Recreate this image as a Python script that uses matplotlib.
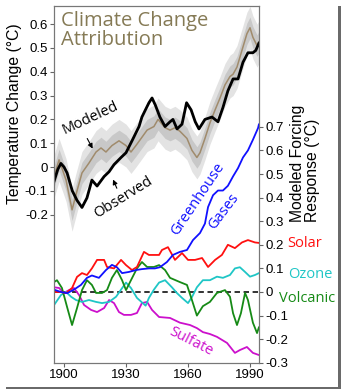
import numpy as np
import matplotlib
matplotlib.use("Agg")
from matplotlib import pyplot as plt
from matplotlib.patches import Rectangle

# observed global temperature (smoothed), left axis
obs_year = [1895.2, 1897, 1898.5, 1900, 1901.5, 1904, 1906.3, 1908.7, 1911.1, 1913.5,
            1916, 1919.4, 1921.8, 1924.2, 1927.6, 1930, 1932.9, 1936.3, 1937.7, 1941.1,
            1942.6, 1944.2, 1946.4, 1948.9, 1951.3, 1952.7, 1954.7, 1957.1, 1959.3, 1961.5,
            1963.5, 1965.3, 1968.2, 1971.6, 1974.5, 1976.9, 1979.3, 1981.8, 1984.2, 1986.6,
            1989, 1991.4, 1992.8, 1994.3]
obs_temp = [-0.06, -0.01, 0.015, 0.0, -0.025, -0.10, -0.14, -0.17, -0.13, -0.055,
            -0.08, -0.04, -0.02, 0.01, 0.04, 0.06, 0.11, 0.17, 0.21, 0.27,
            0.29, 0.26, 0.21, 0.17, 0.19, 0.20, 0.16, 0.18, 0.27, 0.24,
            0.19, 0.16, 0.20, 0.21, 0.19, 0.25, 0.32, 0.37, 0.37, 0.44,
            0.48, 0.48, 0.49, 0.52]

# modeled temperature (ensemble mean), left axis
mod_year = [1895.2, 1897.6, 1901, 1903.9, 1906.3, 1908.7, 1912.1, 1915.5, 1917.9, 1920.3,
            1923.2, 1926.6, 1930, 1932.4, 1934.8, 1937.3, 1940.2, 1943.5, 1945.5, 1948.9,
            1951.3, 1953.7, 1956.1, 1959.5, 1961.9, 1964.3, 1965.8, 1968.2, 1970.6, 1973.1,
            1975.5, 1977.9, 1980.3, 1981.8, 1983.7, 1986.1, 1988.5, 1990, 1991.4, 1993.4,
            1994.3]
mod_temp = [-0.04, 0.03, -0.055, -0.18, -0.10, -0.025, 0.017, 0.063, 0.08, 0.063,
            0.09, 0.11, 0.09, 0.063, 0.09, 0.12, 0.155, 0.17, 0.20, 0.165,
            0.155, 0.165, 0.15, 0.12, 0.07, 0.04, 0.06, 0.12, 0.185, 0.24,
            0.29, 0.345, 0.38, 0.39, 0.42, 0.49, 0.56, 0.585, 0.545, 0.51,
            0.525]
inner_spread = 0.045
outer_spread = 0.09

# forcing responses, right axis
ghg_year = [1895.2, 1898.5, 1901.5, 1904.8, 1908.2, 1911.1, 1913.5, 1916.9, 1920.3, 1923.2,
            1925.6, 1928.1, 1931.4, 1934.8, 1937.7, 1941.1, 1944, 1946.4, 1949.8, 1952.7,
            1956.1, 1959.5, 1962.4, 1965.8, 1968.2, 1969.7, 1972.1, 1974.5, 1976.9, 1979.3,
            1981.8, 1984.2, 1986.6, 1989, 1991.4, 1993.9, 1994.3]
ghg_val = [0.01, 0.0, -0.005, 0.01, 0.03, 0.06, 0.07, 0.06, 0.093, 0.115,
           0.105, 0.08, 0.085, 0.093, 0.097, 0.10, 0.10, 0.105, 0.127, 0.157,
           0.17, 0.178, 0.22, 0.25, 0.29, 0.36, 0.41, 0.43, 0.43, 0.45,
           0.49, 0.525, 0.57, 0.60, 0.645, 0.695, 0.71]

solar_year = [1895.2, 1898.5, 1901, 1903.9, 1906.3, 1908.7, 1911.1, 1913.5, 1916, 1919.4,
              1920.8, 1924.2, 1927.6, 1930, 1932.9, 1935.3, 1938.7, 1941.1, 1943.5, 1946,
              1947.4, 1950.3, 1953.7, 1957.1, 1960, 1963.4, 1966.8, 1969.7, 1973.1, 1976.4,
              1979.3, 1982.7, 1986.1, 1989, 1992.4, 1994.3]
solar_val = [0.0, 0.0, -0.005, 0.017, 0.064, 0.08, 0.072, 0.10, 0.136, 0.136,
             0.106, 0.10, 0.136, 0.114, 0.093, 0.106, 0.17, 0.157, 0.157, 0.157,
             0.178, 0.19, 0.136, 0.165, 0.136, 0.136, 0.144, 0.106, 0.136, 0.157,
             0.20, 0.186, 0.21, 0.22, 0.21, 0.208]

ozone_year = [1895.2, 1898.5, 1901, 1903.4, 1905.8, 1908.7, 1912.1, 1915.5, 1918.4, 1921.8,
              1925.2, 1927.6, 1930, 1932.4, 1935.3, 1939.5, 1941.1, 1943.5, 1946, 1948.9,
              1952.2, 1954.7, 1957.1, 1960, 1962, 1964.3, 1967.2, 1970.6, 1974, 1976.9,
              1980.3, 1982.7, 1985.1, 1987.6, 1990, 1992.4, 1994.3]
ozone_val = [-0.055, -0.013, 0.0, -0.02, -0.034, -0.042, -0.034, -0.042, -0.047, -0.042,
             -0.02, 0.01, 0.04, 0.017, -0.025, -0.058, -0.025, 0.01, 0.04, 0.05,
             0.02, -0.005, -0.025, -0.047, -0.02, 0.02, 0.05, 0.05, 0.065, 0.06,
             0.072, 0.10, 0.105, 0.085, 0.065, 0.072, 0.08]

volc_year = [1895.2, 1896.6, 1899, 1901.5, 1903.9, 1906.3, 1908.7, 1911.1, 1913.5, 1915.5,
             1918.4, 1920.8, 1923.2, 1925.6, 1928.1, 1930, 1932.4, 1935.3, 1937.7, 1940.2,
             1943.5, 1946, 1948.9, 1951.3, 1956.1, 1959.5, 1961.9, 1964.3, 1967.2, 1970.6,
             1974, 1977.9, 1980.3, 1981.8, 1983.7, 1985.6, 1987.6, 1989, 1991.4, 1993.4,
             1994.3]
volc_val = [0.042, 0.05, 0.017, -0.064, -0.14, -0.068, 0.008, 0.05, 0.03, -0.004,
            -0.004, 0.008, 0.06, 0.093, 0.05, 0.008, 0.05, 0.10, 0.127, 0.106,
            0.106, 0.114, 0.093, 0.06, 0.042, 0.03, -0.034, -0.10, -0.06, -0.042,
            -0.004, 0.008, -0.02, -0.09, -0.14, -0.09, -0.004, -0.034, -0.13, -0.174,
            -0.15]

sulf_year = [1895.2, 1897.6, 1900, 1902.4, 1904.8, 1907.3, 1909.7, 1913.1, 1916, 1919.4,
             1921.8, 1924.2, 1926.6, 1929, 1932.4, 1935.3, 1937.7, 1940.2, 1942.6, 1946,
             1951.3, 1956.1, 1961, 1964.3, 1967.2, 1970.6, 1974, 1978.9, 1982.7, 1985.1,
             1988.5, 1991.4, 1994.3]
sulf_val = [0.02, 0.017, -0.004, 0.008, 0.017, -0.013, -0.055, -0.076, -0.085, -0.068,
            -0.034, -0.047, -0.085, -0.097, -0.097, -0.089, -0.047, -0.042, -0.076, -0.106,
            -0.11, -0.13, -0.14, -0.153, -0.17, -0.178, -0.19, -0.216, -0.258, -0.246,
            -0.233, -0.258, -0.267]

year_ticks = [1900, 1930, 1960, 1990]
temp_ticks = [0.6, 0.5, 0.4, 0.3, 0.2, 0.1, 0, -0.1, -0.2]
forc_ticks = [0.7, 0.6, 0.5, 0.4, 0.3, 0.2, 0.1, 0, -0.1, -0.2, -0.3]

W, H = 343, 391
TICK_FONT = "Liberation Sans"
LABEL_FONT = "Open Sans"


def fx(px):
    return px / W


def fy(py):
    return 1 - py / H


fig = plt.figure(figsize=(W / 100, H / 100), dpi=100)
ax = fig.add_axes([fx(54), fy(363), fx(259 - 54), (363 - 6) / H])
ax2 = ax.twinx()

# temperature panel
mod = np.array(mod_temp)
ax.fill_between(mod_year, mod - outer_spread, mod + outer_spread, color="#e3e3e3", lw=0)
ax.fill_between(mod_year, mod - inner_spread, mod + inner_spread, color="#c8c8c8", lw=0)
ax.plot(mod_year, mod_temp, color="#a08b6c", lw=1.1)
ax.plot(obs_year, obs_temp, color="black", lw=2.0)

# forcing panel
ax2.axhline(0, color="#222222", lw=1.3, ls=(0, (3, 2)))
ax2.plot(sulf_year, sulf_val, color="#cc10cc", lw=1.3)
ax2.plot(ozone_year, ozone_val, color="#1fc6c6", lw=1.3)
ax2.plot(volc_year, volc_val, color="#168a16", lw=1.3)
ax2.plot(solar_year, solar_val, color="#ff1010", lw=1.3)
ax2.plot(ghg_year, ghg_val, color="#1010ff", lw=1.3)

ax.set_xlim(1895.16, 1994.35)
ax.set_ylim((167 - 363) / 238, (167 - 6) / 238)
ax2.set_ylim((292 - 363) / 236, (292 - 6) / 236)

ax.set_xticks(year_ticks)
ax.set_xticklabels([str(y) for y in year_ticks], fontsize=9.5, family=TICK_FONT)
ax.set_yticks(temp_ticks)
ax.set_yticklabels([f"{t:g}" for t in temp_ticks], fontsize=9.5, family=TICK_FONT)
ax2.set_yticks(forc_ticks)
ax2.set_yticklabels([f"{t:g}" for t in forc_ticks], fontsize=9.5, family=TICK_FONT)
for a in (ax, ax2):
    a.tick_params(direction="out", length=3, width=0.8, color="#666666", pad=1.5)
    for s in a.spines.values():
        s.set_color("#777777")
        s.set_linewidth(0.8)

fig.text(fx(15), fy(114), "Temperature Change (°C)", rotation=90, ha="center",
         va="center", fontsize=11.3, family=TICK_FONT)
fig.text(fx(305), fy(222), "Modeled Forcing\nResponse (°C)", rotation=90, ha="center",
         va="bottom", multialignment="left", fontsize=11.3, family=TICK_FONT,
         linespacing=1.05)

fig.text(fx(61), fy(11), "Climate Change\nAttribution", ha="left", va="top",
         fontsize=14.5, color="#857a55", family=LABEL_FONT, linespacing=0.95)

# curve labels
ax.text(1912.6, 0.206, "Modeled", rotation=25, ha="center", va="center",
        fontsize=10.5, family=LABEL_FONT)
ax.annotate("", xy=(1914.5, 0.067), xytext=(1910.6, 0.13),
            arrowprops=dict(arrowstyle="-|>", color="black", lw=0.8, mutation_scale=7))
ax.text(1928.5, -0.13, "Observed", rotation=32, ha="center", va="center",
        fontsize=10.5, family=LABEL_FONT)
ax.annotate("", xy=(1923.2, -0.042), xytext=(1926.1, -0.10),
            arrowprops=dict(arrowstyle="-|>", color="black", lw=0.8, mutation_scale=7))

ax2.text(1964.8, 0.394, "Greenhouse", rotation=56, ha="center", va="center",
         fontsize=10.5, color="#1010ff", family=LABEL_FONT)
ax2.text(1977.4, 0.343, "Gases", rotation=53, ha="center", va="center",
         fontsize=10.5, color="#1010ff", family=LABEL_FONT)
ax2.text(1961.4, -0.212, "Sulfate", rotation=-27, ha="center", va="center",
         fontsize=10.5, color="#cc10cc", family=LABEL_FONT)
fig.text(fx(305), fy(243), "Solar", ha="center", va="center", fontsize=10.5,
         color="#ff1010", family=LABEL_FONT)
fig.text(fx(310), fy(274), "Ozone", ha="center", va="center", fontsize=10.5,
         color="#1fc6c6", family=LABEL_FONT)
fig.text(fx(307), fy(298), "Volcanic", ha="center", va="center", fontsize=10.5,
         color="#168a16", family=LABEL_FONT)

# drop-shadow frame on right and bottom edges
fig.add_artist(Rectangle((fx(338), fy(389)), fx(3), (389 - 6) / H, transform=fig.transFigure,
                         color="#6a6a6a", lw=0))
fig.add_artist(Rectangle((fx(6), fy(389)), fx(335), 2.5 / H, transform=fig.transFigure,
                         color="#6a6a6a", lw=0))

fig.savefig("out.png", dpi=100)
